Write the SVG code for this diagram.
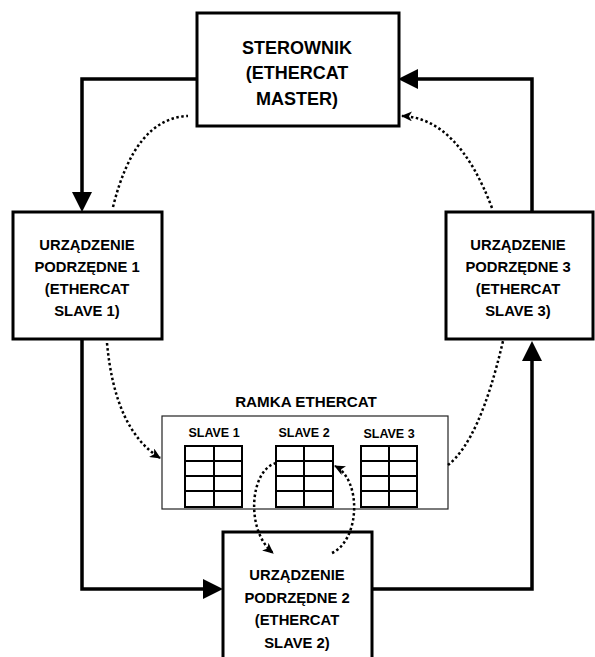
<svg xmlns="http://www.w3.org/2000/svg" width="595" height="657" viewBox="0 0 595 657">
<style>
.box{fill:#fff;stroke:#000;stroke-width:3}
.t{font-family:"Liberation Sans",Arial,sans-serif;font-weight:bold;font-size:14.8px;text-anchor:middle;fill:#000}
.tm{font-size:18px}
.tl{font-size:12.5px}
.conn{fill:none;stroke:#000;stroke-width:3.5}
.dot{fill:none;stroke:#000;stroke-width:2.5;stroke-dasharray:2.5 2.5}
.tbl{fill:#fff;stroke:#000;stroke-width:2}
.grid{stroke:#000;stroke-width:2}
</style>
<defs>
<marker id="ah" markerUnits="userSpaceOnUse" markerWidth="20" markerHeight="20" refX="4" refY="10" orient="auto">
<path d="M0,0 L20,10 L0,20 z" fill="#000"/>
</marker>
<marker id="dh" markerUnits="userSpaceOnUse" markerWidth="12" markerHeight="10" refX="10" refY="5" orient="auto">
<path d="M0,0 L11,5 L0,10 L3,5 z" fill="#000"/>
</marker>
</defs>

<g id="master">
<rect class="box" x="197" y="13" width="202" height="113"/>
<text class="t tm" x="297" y="54">STEROWNIK</text>
<text class="t tm" x="297" y="79">(ETHERCAT</text>
<text class="t tm" x="297" y="105">MASTER)</text>
</g>

<g id="slave1">
<rect class="box" x="13" y="212" width="149" height="127"/>
<text class="t" x="87" y="250">URZĄDZENIE</text>
<text class="t" x="87" y="272">PODRZĘDNE 1</text>
<text class="t" x="87" y="294">(ETHERCAT</text>
<text class="t" x="87" y="316">SLAVE 1)</text>
</g>

<g id="slave3">
<rect class="box" x="446" y="212" width="147" height="127"/>
<text class="t" x="518" y="250">URZĄDZENIE</text>
<text class="t" x="518" y="272">PODRZĘDNE 3</text>
<text class="t" x="518" y="294">(ETHERCAT</text>
<text class="t" x="518" y="316">SLAVE 3)</text>
</g>

<g id="slave2">
<rect class="box" x="223" y="532" width="149" height="130"/>
<text class="t" x="297" y="580">URZĄDZENIE</text>
<text class="t" x="297" y="603">PODRZĘDNE 2</text>
<text class="t" x="297" y="625">(ETHERCAT</text>
<text class="t" x="297" y="648">SLAVE 2)</text>
</g>

<g id="frame">
<text class="t" x="306" y="407" style="font-size:15.2px">RAMKA ETHERCAT</text>
<rect x="162" y="416" width="286" height="93" fill="#fff" stroke="#222" stroke-width="1.2"/>
<text class="t tl" x="214" y="437">SLAVE 1</text>
<text class="t tl" x="304" y="437">SLAVE 2</text>
<text class="t tl" x="389" y="438">SLAVE 3</text>
<g id="table1">
<rect class="tbl" x="185" y="446" width="57" height="61"/>
<path class="grid" d="M214,446 V507 M185,461 H242 M185,476 H242 M185,491 H242"/>
</g>
<g id="table2">
<rect class="tbl" x="276" y="446" width="57" height="61"/>
<path class="grid" d="M304,446 V507 M276,461 H333 M276,476 H333 M276,491 H333"/>
</g>
<g id="table3">
<rect class="tbl" x="361" y="446" width="56" height="61"/>
<path class="grid" d="M389,446 V507 M361,461 H417 M361,476 H417 M361,491 H417"/>
</g>
</g>

<g id="connectors">
<path class="conn" d="M197,79 H82 V196" marker-end="url(#ah)"/>
<path class="conn" d="M82,339 V589 H207" marker-end="url(#ah)"/>
<path class="conn" d="M372,589 H532 V357" marker-end="url(#ah)"/>
<path class="conn" d="M532,212 V79 H414" marker-end="url(#ah)"/>
<path class="dot" d="M113,207 Q135,118 188,116"/>
<path class="dot" d="M492,208 Q458,118 402,116" marker-end="url(#dh)"/>
<path class="dot" d="M107,343 Q115,430 160,458" marker-end="url(#dh)"/>
<path class="dot" d="M448,465 Q480,440 503,341"/>
<path class="dot" d="M276,463 C250,470 245,530 273,553" marker-end="url(#dh)"/>
<path class="dot" d="M332,553 C360,540 362,480 335,466" marker-end="url(#dh)"/>
</g>
</svg>
